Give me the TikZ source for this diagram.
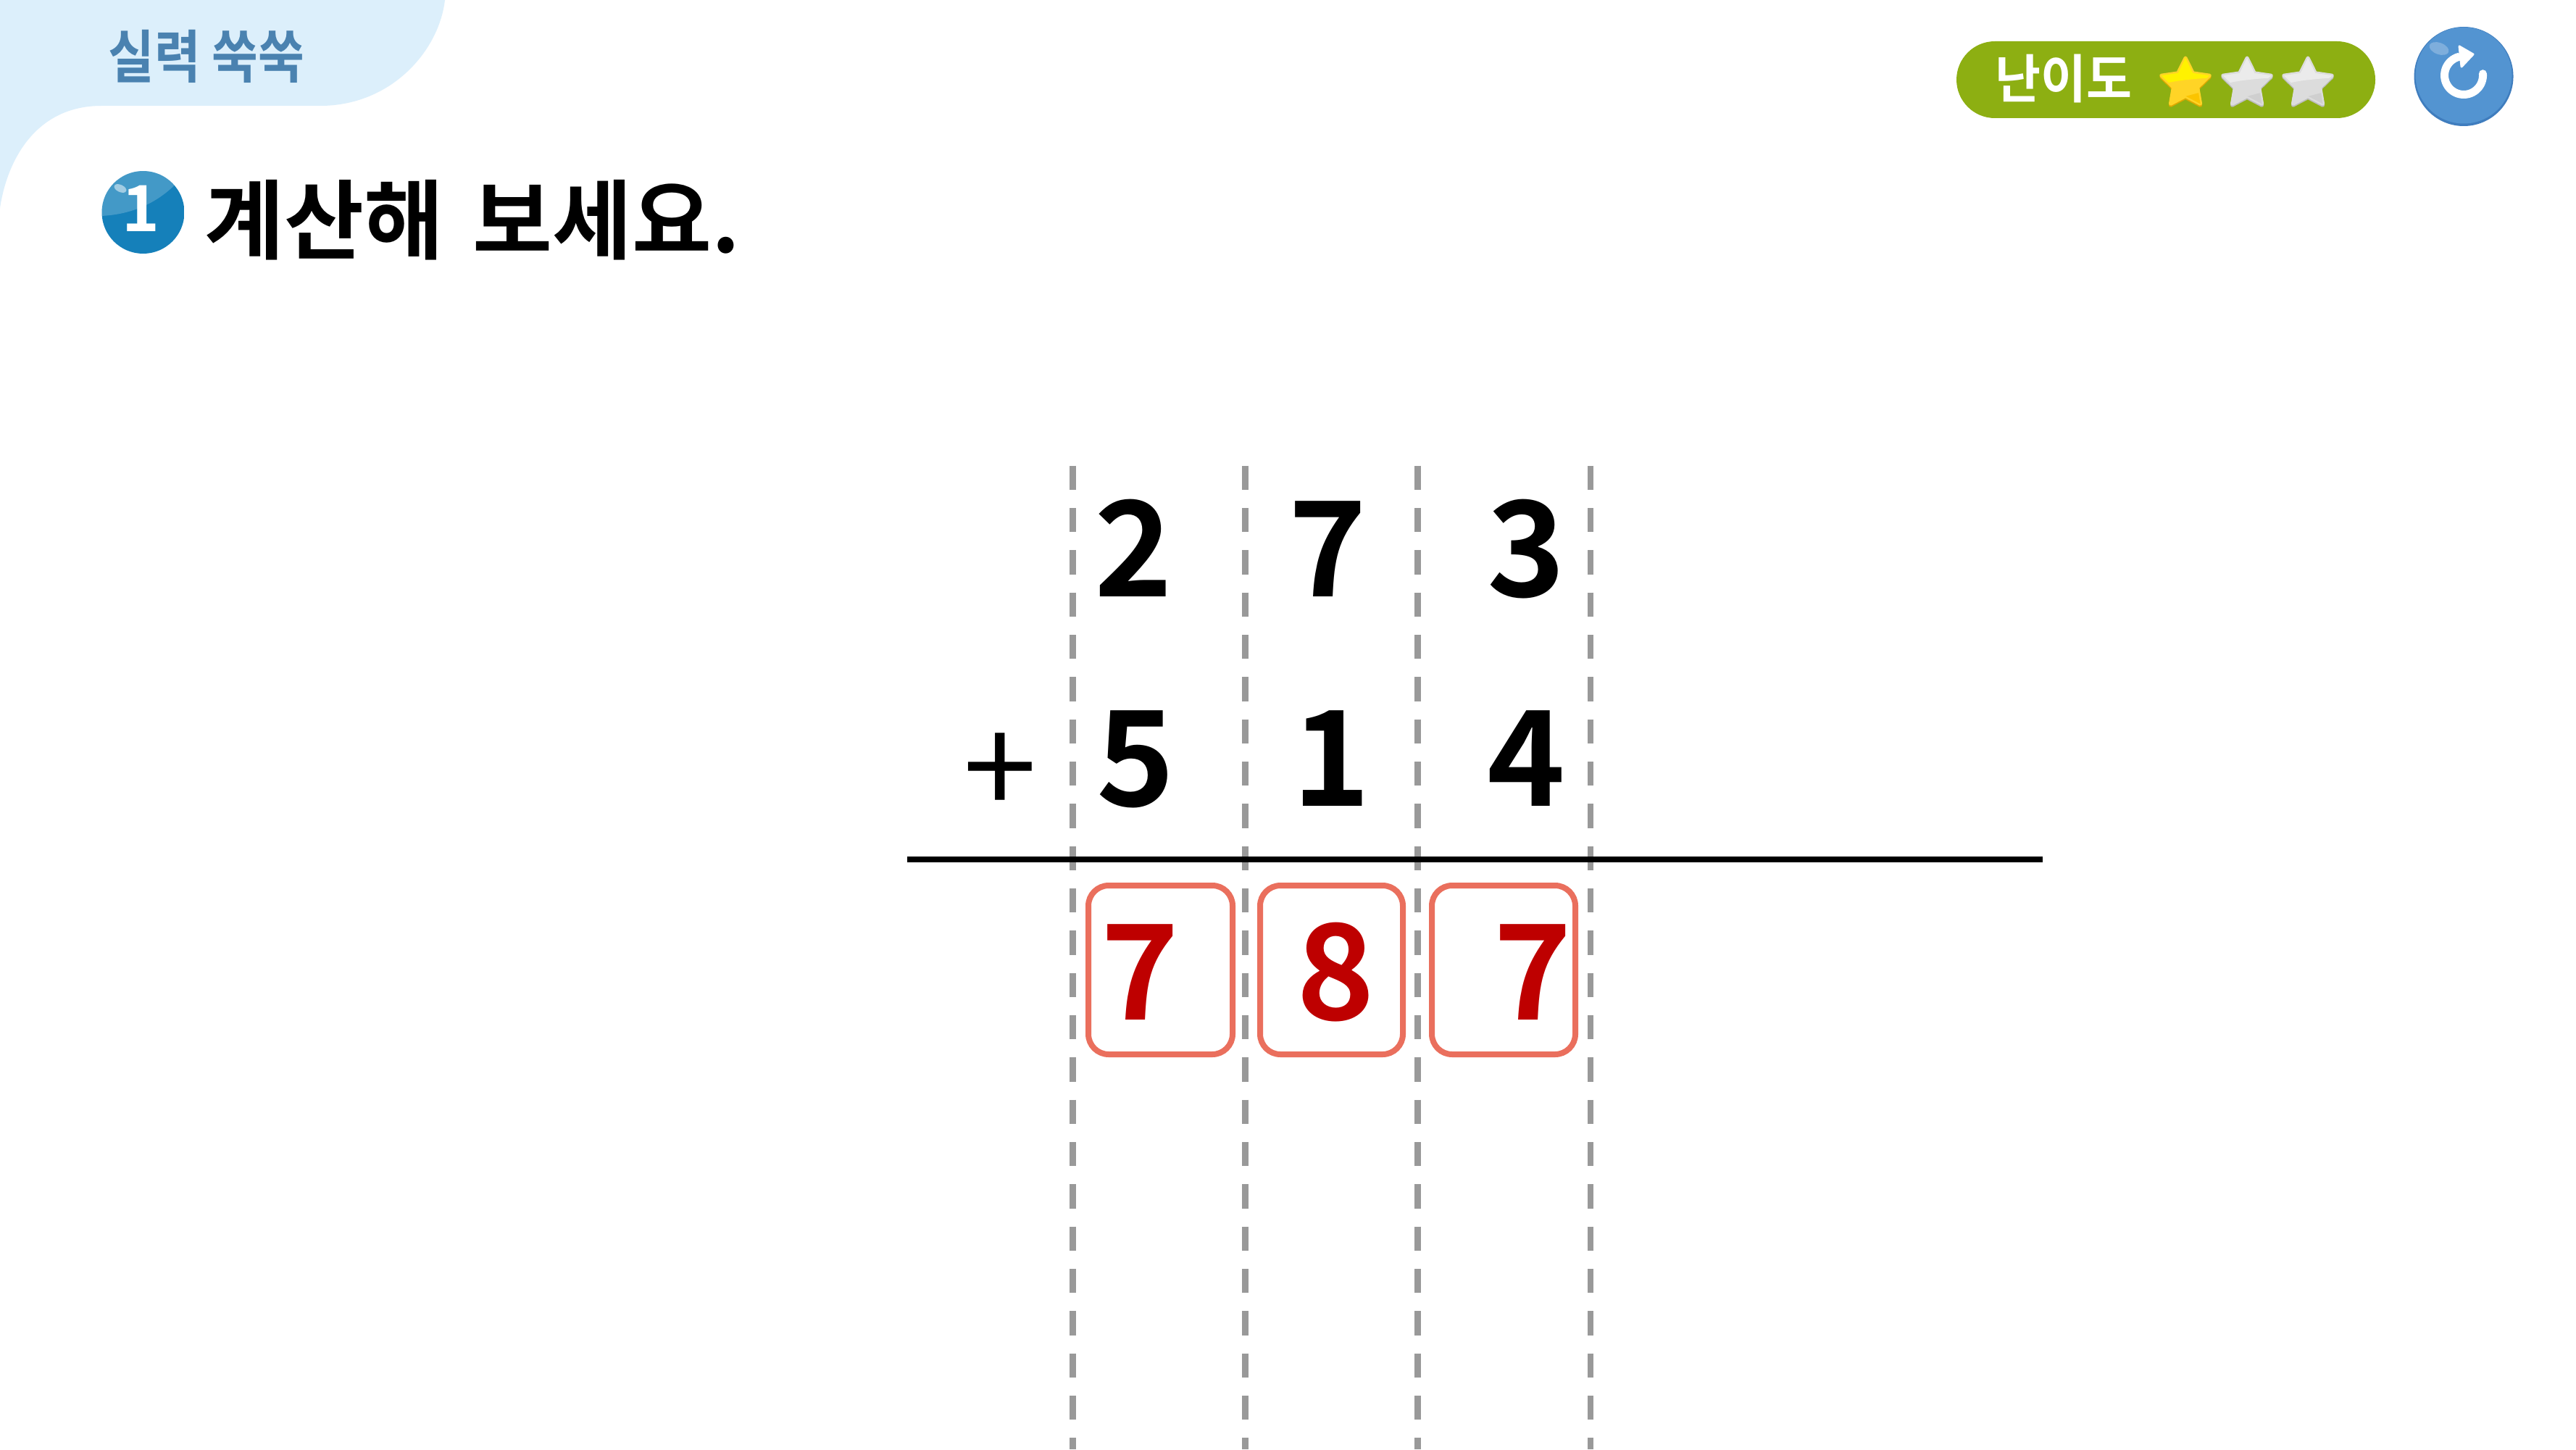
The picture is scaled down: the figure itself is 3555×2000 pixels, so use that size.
\documentclass[tikz,border=0pt]{standalone}
\usepackage{fontspec}
\setmainfont{Noto Sans CJK KR}[BoldFont={Noto Sans CJK KR Bold}]
\definecolor{tabblue}{HTML}{DCEFFB}
\definecolor{tabtext}{HTML}{4A82B0}
\definecolor{ballblue}{HTML}{1580BA}
\definecolor{pillgreen}{HTML}{8DAF12}
\definecolor{btnblue}{HTML}{5394D1}
\definecolor{btndark}{HTML}{3F7DBE}
\definecolor{dashgray}{HTML}{999999}
\definecolor{boxred}{HTML}{EA6F5D}
\definecolor{digitred}{HTML}{BE0000}
\definecolor{goldedge}{HTML}{E0A800}
\definecolor{goldbody}{HTML}{FFD426}
\definecolor{goldtop}{HTML}{FFF200}
\definecolor{goldlow}{HTML}{FBC400}
\definecolor{grayedge}{HTML}{BDBDBD}
\definecolor{graybody}{HTML}{DCDCDC}
\definecolor{graytop}{HTML}{EBEBEB}
\definecolor{graylow}{HTML}{CFCFCF}
\tikzset{
  digit/.style={anchor=base,inner sep=0pt,font=\fontsize{52}{60}\selectfont\bfseries,text=black},
  reddigit/.style={digit,text=digitred},
  guide/.style={draw=dashgray,line width=0.085cm,dash pattern=on 0.333cm off 0.25cm},
  answerbox/.style={draw=boxred,line width=0.08cm,rounded corners=0.28cm,fill=white},
}
\newcommand{\starpath}[3]{plot[samples at={0,36,...,324}] ({#1+(mod(\x,72)==0?#3:#3*0.5)*sin(\x)},{#2-(mod(\x,72)==0?#3:#3*0.5)*cos(\x)}) -- cycle}
% x, y, edge, top, body, low
\newcommand{\gamestar}[6]{%
  \fill[#3,draw=#3,line width=0.05cm,line join=round] \starpath{#1}{#2+2}{35};
  \begin{scope}
    \clip[preaction={draw=#5,line width=0.05cm,line join=round}] \starpath{#1}{#2}{35};
    \fill[#5] (#1-40,#2-40) rectangle (#1+40,#2+40);
    \fill[#4] (#1-40,#2-40) -- (#1+40,#2-40) -- (#1+40,#2-8) .. controls (#1+10,#2-6) and (#1-20,#2-4) .. (#1-40,#2+4) -- cycle;
    \fill[#6] (#1-30,#2+35) -- (#1,#2+18) -- (#1+30,#2+10) -- (#1+30,#2+40) -- (#1-30,#2+40) -- cycle;
  \end{scope}
}
\begin{document}
\begin{tikzpicture}[x=0.01cm,y=-0.01cm]
\useasboundingbox (0,0) rectangle (3555,2000);
\fill[white] (0,0) rectangle (3555,2000);
% corner tab
\fill[tabblue] (0,0) -- (614,0) .. controls (606,70) and (540,146) .. (442,146)
  -- (140,146) .. controls (50,146) and (10,220) .. (0,287) -- cycle;
\node[anchor=base,inner sep=0pt,text=tabtext,font=\fontsize{22.5}{24}\selectfont\bfseries,xscale=0.875] (tab) at (285,108) {실력 쑥쑥};
% number ball
\begin{scope}
  \clip (197.5,293) circle[radius=57];
  \fill[ballblue] (140,236) rectangle (255,350);
  \fill[white,opacity=0.2] (140,236) -- (255,236) -- (255,240) .. controls (235,265) and (200,295) .. (140,298) -- cycle;
\end{scope}
\fill[white,opacity=0.5,rotate around={-25:(166,260)}] (166,260) ellipse[x radius=9,y radius=5];
\node[anchor=base,inner sep=0pt,text=white,font=\fontsize{25}{28}\selectfont\bfseries] (ballnum) at (194,319) {1};
\node[anchor=base west,inner sep=0pt,font=\fontsize{34}{38}\selectfont\bfseries] (title) at (282,348) {계산해\hspace{3.5pt} 보세요.};
% level pill
\fill[pillgreen] (2700,57) [rounded corners=0.53cm] rectangle (3278,163);
\node[anchor=base,inner sep=0pt,text=white,font=\fontsize{20.5}{22}\selectfont\bfseries,xscale=0.95] (level) at (2848,136) {난이도};
\gamestar{3016}{115}{goldedge}{goldtop}{goldbody}{goldlow}
\gamestar{3101}{115}{grayedge}{graytop}{graybody}{graylow}
\gamestar{3185}{115}{grayedge}{graytop}{graybody}{graylow}
% reload button
\fill[btndark] (3400,105.5) circle[radius=68.5];
\fill[btnblue] (3400,104) circle[radius=66.5];
\fill[white,opacity=0.25,rotate around={-20:(3366,67)}] (3366,67) ellipse[x radius=14,y radius=8];
\draw[white,line width=0.11cm,line cap=round] plot[domain=-5:255,samples=40,smooth] ({3400+26.5*cos(\x)},{104+26.5*sin(\x)});
\fill[white,draw=white,line width=0.03cm,line join=round] (3394,64) -- (3413,75) -- (3397,92) -- cycle;
% dashed guides
\foreach \gx in {1480.3,1718.3,1956.6,2195}{ \draw[guide] (\gx,642.7) -- (\gx,2000); }
% rule
\draw[black,line width=0.083cm] (1252,1186.3) -- (2819,1186.3);
% digits
\node[digit] (a1) at (1564,823) {2};
\node[digit] (a2) at (1832,823) {7};
\node[digit] (a3) at (2106,823) {3};
\node[digit] (b1) at (1567,1112) {5};
\node[digit] (b2) at (1837,1112) {1};
\node[digit] (b3) at (2106,1112) {4};
\node[digit,font=\fontsize{52}{60}\selectfont\mdseries] (plus) at (1380,1125) {+};
% answers
\draw[answerbox] (1502,1222) rectangle (1701,1455);
\draw[answerbox] (1739,1222) rectangle (1936,1455);
\draw[answerbox] (1976,1222) rectangle (2174,1455);
\node[reddigit] (c1) at (1573,1407) {7};
\node[reddigit] (c2) at (1843,1407) {8};
\node[reddigit] (c3) at (2115,1407) {7};
\end{tikzpicture}
\end{document}
